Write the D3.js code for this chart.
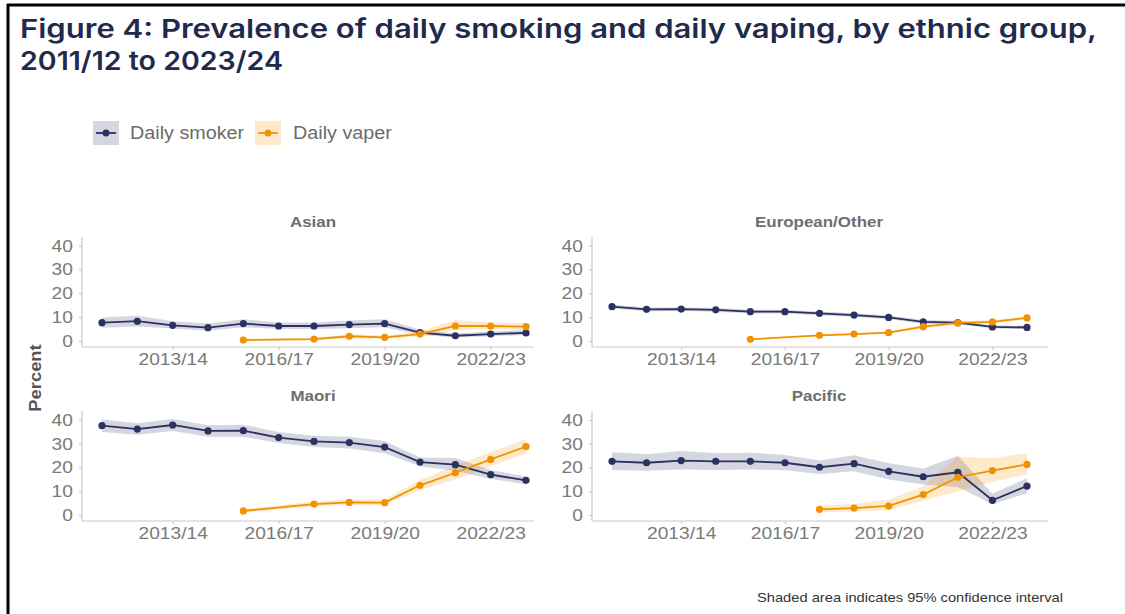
<!DOCTYPE html>
<html><head><meta charset="utf-8">
<script src="https://cdn.jsdelivr.net/npm/d3@7"></script>
<style>
html,body{margin:0;padding:0;background:#fff;}
svg{display:block;}
</style></head>
<body>
<svg id="c" width="1125" height="614"></svg>
<script>
// ---------- DATA ----------
const years = ['2011/12','2012/13','2013/14','2014/15','2015/16','2016/17','2017/18','2018/19','2019/20','2020/21','2021/22','2022/23','2023/24'];
const xTicks = ['2013/14','2016/17','2019/20','2022/23'];
const yTicks = [0,10,20,30,40];
const panelNames = ['Asian','European/Other','Maori','Pacific'];
const seriesNames = ['Daily smoker','Daily vaper'];

const asianSmoker   = [7.7, 8.3, 6.6, 5.6, 7.3, 6.3, 6.3, 6.9, 7.3, 3.5, 2.2, 2.9, 3.4];
const asianSmokerLo = [5.6, 6.1, 5.2, 4.3, 5.8, 5.0, 5.0, 5.4, 5.8, 2.5, 1.5, 2.0, 2.5];
const asianSmokerHi = [9.9, 10.6, 8.3, 7.3, 9.1, 7.8, 7.8, 8.6, 9.1, 4.7, 3.2, 4.0, 4.6];
const asianVaper    = [null, null, null, null, 0.4, null, 0.8, 2.0, 1.5, 2.9, 6.3, 6.3, 6.0];
const asianVaperLo  = [null, null, null, null, 0.1, null, 0.3, 1.2, 0.9, 2.0, 4.6, 5.0, 4.8];
const asianVaperHi  = [null, null, null, null, 0.8, null, 1.4, 2.8, 2.3, 4.0, 8.8, 7.9, 7.5];

const euroSmoker   = [14.4, 13.3, 13.4, 13.1, 12.3, 12.3, 11.6, 10.9, 9.9, 8.0, 7.7, 5.9, 5.7];
const euroSmokerLo = [13.6, 12.5, 12.6, 12.3, 11.5, 11.5, 10.8, 10.1, 9.1, 7.2, 6.9, 5.2, 5.0];
const euroSmokerHi = [15.2, 14.1, 14.2, 13.9, 13.1, 13.1, 12.4, 11.7, 10.7, 8.8, 8.5, 6.6, 6.4];
const euroVaper    = [null, null, null, null, 0.7, null, 2.4, 2.9, 3.5, 6.0, 7.6, 8.0, 9.7];
const euroVaperLo  = [null, null, null, null, 0.5, null, 2.0, 2.5, 3.0, 5.3, 6.8, 7.3, 9.0];
const euroVaperHi  = [null, null, null, null, 0.9, null, 2.8, 3.3, 4.0, 6.7, 8.4, 8.7, 10.4];

const maoriSmoker   = [37.6, 36.2, 37.9, 35.4, 35.5, 32.6, 31.0, 30.5, 28.6, 22.3, 21.2, 17.0, 14.6];
const maoriSmokerLo = [35.0, 33.8, 35.4, 33.0, 33.0, 30.3, 28.6, 28.0, 26.0, 20.5, 18.6, 15.2, 13.0];
const maoriSmokerHi = [40.2, 38.6, 40.4, 37.8, 38.0, 34.9, 33.4, 33.0, 31.2, 24.2, 24.0, 19.0, 16.2];
const maoriVaper    = [null, null, null, null, 1.7, null, 4.6, 5.3, 5.2, 12.5, 17.8, 23.4, 28.8];
const maoriVaperLo  = [null, null, null, null, 1.0, null, 3.6, 4.2, 4.1, 10.5, 15.0, 20.5, 25.8];
const maoriVaperHi  = [null, null, null, null, 2.5, null, 5.7, 6.5, 6.5, 14.7, 20.8, 26.5, 32.0];

const pacSmoker   = [22.6, 22.0, 22.9, 22.6, 22.6, 22.0, 20.1, 21.6, 18.4, 16.1, 18.0, 6.2, 12.2];
const pacSmokerLo = [18.9, 18.6, 19.2, 19.0, 19.2, 18.8, 17.3, 18.4, 15.0, 12.8, 11.8, 4.5, 9.2];
const pacSmokerHi = [26.4, 25.6, 27.0, 26.0, 26.2, 25.3, 23.0, 25.2, 21.8, 19.6, 25.0, 9.0, 15.5];
const pacVaper    = [null, null, null, null, null, null, 2.4, 2.9, 3.8, 8.6, 15.9, 18.7, 21.3];
const pacVaperLo  = [null, null, null, null, null, null, 1.2, 1.6, 2.0, 6.0, 10.0, 14.0, 17.2];
const pacVaperHi  = [null, null, null, null, null, null, 4.0, 4.6, 6.5, 12.0, 24.5, 24.0, 26.0];

// ---------- STYLE / LAYOUT ----------
const NAVY = '#2b3160', ORANGE = '#f39200';
const TXT_SX = 1.13;
const FONT = "'Liberation Sans', Arial, Helvetica, sans-serif";

const panels = [
  {name: panelNames[0], s:[asianSmoker,asianSmokerLo,asianSmokerHi], v:[asianVaper,asianVaperLo,asianVaperHi],
   axX:82, x0:102, x1:526, xEnd:534, y0:341, y40:245.7, yTop:237, yBot:347, titleX:313, titleY:222},
  {name: panelNames[1], s:[euroSmoker,euroSmokerLo,euroSmokerHi], v:[euroVaper,euroVaperLo,euroVaperHi],
   axX:592, x0:612, x1:1027, xEnd:1048, y0:341, y40:245.7, yTop:237, yBot:347, titleX:819, titleY:222},
  {name: panelNames[2], s:[maoriSmoker,maoriSmokerLo,maoriSmokerHi], v:[maoriVaper,maoriVaperLo,maoriVaperHi],
   axX:82, x0:102, x1:526, xEnd:534, y0:515, y40:420, yTop:411, yBot:521, titleX:313, titleY:396},
  {name: panelNames[3], s:[pacSmoker,pacSmokerLo,pacSmokerHi], v:[pacVaper,pacVaperLo,pacVaperHi],
   axX:592, x0:612, x1:1027, xEnd:1048, y0:515, y40:420, yTop:411, yBot:521, titleX:819, titleY:396}
];

const svg = d3.select('#c');

function addText(parent, x, y, txt, o) {
  o = o || {};
  const g = parent.append('g').attr('transform', `translate(${x},${y}) ${o.rotate?`rotate(${o.rotate})`:''} scale(${o.sx||TXT_SX},1)`);
  return g.append('text')
    .attr('font-family', o.family || FONT)
    .attr('font-size', o.size || 16)
    .attr('font-weight', o.weight || 'normal')
    .attr('fill', o.fill || '#777')
    .attr('text-anchor', o.anchor || 'start')
    .attr('dominant-baseline', o.baseline || 'auto')
    .text(txt);
}

// frame
svg.append('line').attr('x1',8).attr('x2',8).attr('y1',4).attr('y2',614).attr('stroke','#000').attr('stroke-width',3);
svg.append('line').attr('x1',7).attr('x2',1125).attr('y1',5).attr('y2',5).attr('stroke','#000').attr('stroke-width',3);

// title
svg.append('text').attr('x',20).attr('y',38)
  .attr('font-family',"Inter, 'Open Sans', sans-serif").attr('font-weight',600).attr('font-size',26)
  .attr('fill','#1f2a4c').attr('textLength',1077).attr('lengthAdjust','spacingAndGlyphs')
  .text('Figure 4: Prevalence of daily smoking and daily vaping, by ethnic group,');
svg.append('text').attr('x',20).attr('y',70)
  .attr('font-family',"Inter, 'Open Sans', sans-serif").attr('font-weight',600).attr('font-size',26)
  .attr('fill','#1f2a4c').attr('textLength',263).attr('lengthAdjust','spacingAndGlyphs')
  .text('2011/12 to 2023/24');

// legend
const legendItems = [
  {label: seriesNames[0], color: NAVY, bx: 93, tx: 130},
  {label: seriesNames[1], color: ORANGE, bx: 255, tx: 293}
];
legendItems.forEach(it => {
  const g = svg.append('g');
  g.append('rect').attr('x', it.bx).attr('y',121).attr('width',26).attr('height',24)
    .attr('fill', it.color).attr('fill-opacity', 0.2);
  g.append('line').attr('x1', it.bx+3).attr('x2', it.bx+23).attr('y1',133).attr('y2',133)
    .attr('stroke', it.color).attr('stroke-width',1.8);
  g.append('circle').attr('cx', it.bx+13).attr('cy',133).attr('r',3.5).attr('fill', it.color);
  addText(svg, it.tx, 133, it.label, {size:17.5, fill:'#6b6b6b', baseline:'central'});
});

// panels
panels.forEach(p => {
  const g = svg.append('g');
  const x = d3.scalePoint().domain(years).range([p.x0, p.x1]);
  const y = d3.scaleLinear().domain([0,40]).range([p.y0, p.y40]);

  const ya = g.append('g').attr('transform', `translate(${p.axX},0)`)
    .call(d3.axisLeft(y).tickValues(yTicks).tickSize(3).tickPadding(5));
  ya.select('.domain').remove();
  ya.selectAll('.tick line').attr('stroke','#c9c9c9').attr('stroke-width',1.1);
  ya.selectAll('.tick text').attr('font-family',FONT).attr('font-size',17).attr('fill','#7a7a7a')
    .attr('transform',`scale(${TXT_SX},1)`);
  g.append('line').attr('x1',p.axX).attr('x2',p.axX).attr('y1',p.yTop).attr('y2',p.yBot)
    .attr('stroke','#c9c9c9').attr('stroke-width',1.2);

  const xa = g.append('g').attr('transform', `translate(0,${p.yBot})`)
    .call(d3.axisBottom(x).tickValues(xTicks).tickSize(3).tickPadding(3));
  xa.select('.domain').remove();
  xa.selectAll('.tick line').attr('stroke','#c9c9c9').attr('stroke-width',1.1);
  xa.selectAll('.tick text').attr('font-family',FONT).attr('font-size',17).attr('fill','#7a7a7a')
    .attr('transform',`scale(${TXT_SX},1)`);
  g.append('line').attr('x1',p.axX).attr('x2',p.xEnd).attr('y1',p.yBot).attr('y2',p.yBot)
    .attr('stroke','#c9c9c9').attr('stroke-width',1.2);

  addText(svg, p.titleX, p.titleY, p.name, {size:15, weight:'bold', fill:'#6e6e6e', anchor:'middle', baseline:'central'});

  [[p.s, NAVY],[p.v, ORANGE]].forEach(([arr, col]) => {
    const [vals, lo, hi] = arr;
    const pts = years.map((yr,i) => ({yr, v: vals[i], lo: lo[i], hi: hi[i]})).filter(d => d.v != null);
    g.append('path').datum(pts)
      .attr('d', d3.area().x(d => x(d.yr)).y0(d => y(d.lo)).y1(d => y(d.hi)))
      .attr('fill', col).attr('fill-opacity', 0.2).attr('stroke','none');
  });
  [[p.s, NAVY],[p.v, ORANGE]].forEach(([arr, col]) => {
    const [vals] = arr;
    const pts = years.map((yr,i) => ({yr, v: vals[i]})).filter(d => d.v != null);
    g.append('path').datum(pts)
      .attr('d', d3.line().x(d => x(d.yr)).y(d => y(d.v)))
      .attr('fill','none').attr('stroke', col).attr('stroke-width',1.8);
    g.selectAll(null).data(pts).enter().append('circle')
      .attr('cx', d => x(d.yr)).attr('cy', d => y(d.v)).attr('r',3.6).attr('fill', col);
  });
});

// y axis title
addText(svg, 35, 378, 'Percent', {size:17, weight:'bold', fill:'#555', anchor:'middle', baseline:'central', rotate:-90, sx:1.08});

// footnote
addText(svg, 757, 597, 'Shaded area indicates 95% confidence interval', {size:13, fill:'#333', baseline:'central', sx:1.13});
</script>
</body></html>
